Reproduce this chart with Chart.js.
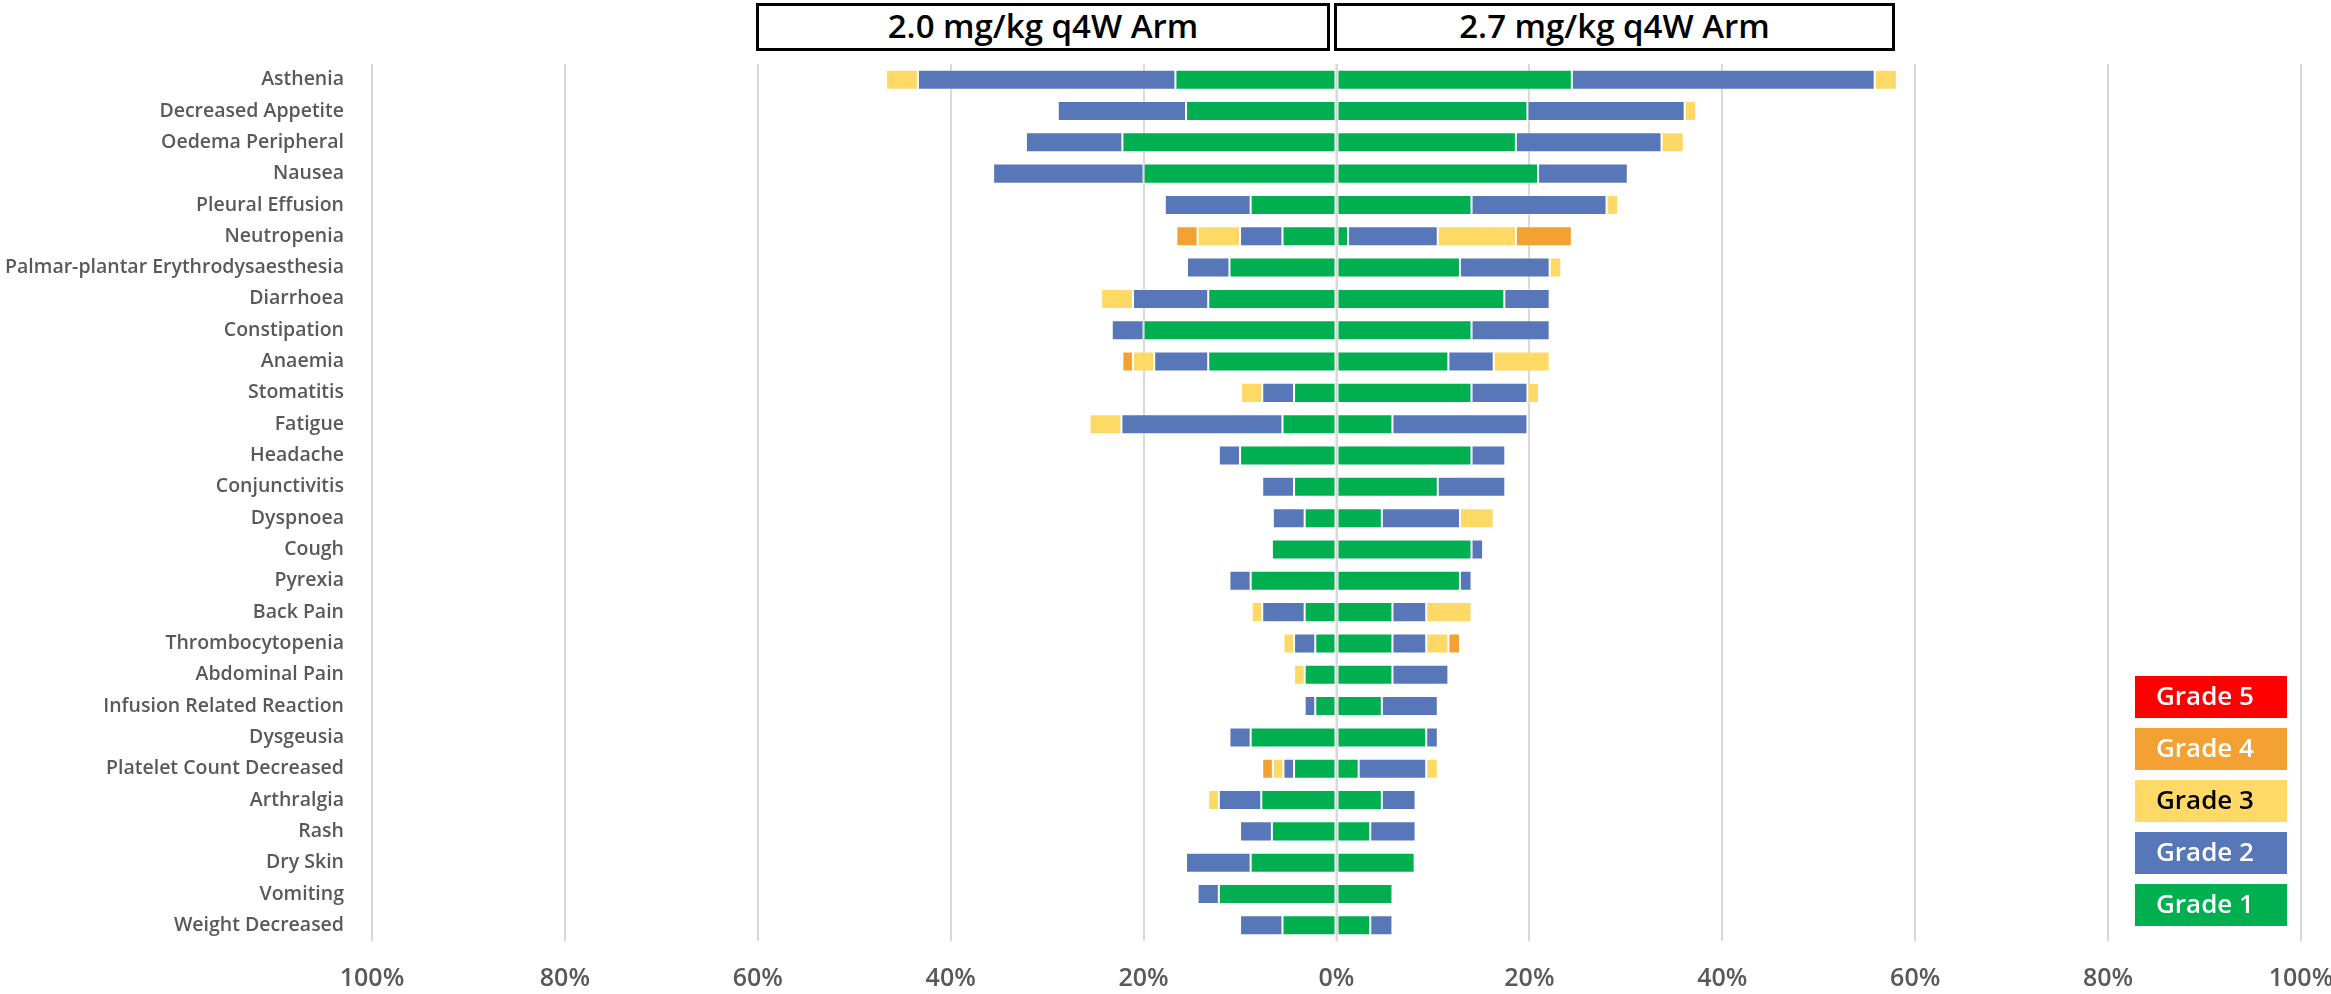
<!DOCTYPE html>
<html>
<head>
<meta charset="utf-8">
<script src="https://cdn.jsdelivr.net/npm/chart.js@4"></script>
<style>
  body { margin: 0; background: #fff; }
  #wrap { position: relative; width: 2331px; height: 994px; }
  .arm {
    position: absolute; top: 3px; height: 48px; box-sizing: border-box;
    border: 3px solid #000; background: #fff; color: #000;
    font: 600 33px "Open Sans", sans-serif; text-align: center; line-height: 40px;
  }
</style>
</head>
<body>
<div id="wrap">
  <canvas id="myChart" width="2331" height="994"></canvas>
  <div class="arm" style="left:756px;width:574px">2.0 mg/kg q4W Arm</div>
  <div class="arm" style="left:1334px;width:561px">2.7 mg/kg q4W Arm</div>
</div>
<script>
// 부작용 항목 (위에서부터)
const categories = [
  "Asthenia", "Decreased Appetite", "Oedema Peripheral", "Nausea", "Pleural Effusion",
  "Neutropenia", "Palmar-plantar Erythrodysaesthesia", "Diarrhoea", "Constipation", "Anaemia",
  "Stomatitis", "Fatigue", "Headache", "Conjunctivitis", "Dyspnoea", "Cough", "Pyrexia",
  "Back Pain", "Thrombocytopenia", "Abdominal Pain", "Infusion Related Reaction", "Dysgeusia",
  "Platelet Count Decreased", "Arthralgia", "Rash", "Dry Skin", "Vomiting", "Weight Decreased"
];

const grades = ["Grade 1", "Grade 2", "Grade 3", "Grade 4", "Grade 5"];
const gradeColors = ["#00b050", "#5877b9", "#ffd966", "#f4a133", "#ff0000"];

// 2.0 mg/kg q4W Arm (%), 왼쪽
const lowG1 = [16.7, 15.6, 22.2, 20.0, 8.9, 5.6, 11.1, 13.3, 20.0, 13.3, 4.4, 5.6, 10.0, 4.4, 3.3, 6.7, 8.9, 3.3, 2.2, 3.3, 2.2, 8.9, 4.4, 7.8, 6.7, 8.9, 12.2, 5.6];
const lowG2 = [26.7, 13.3, 10.0, 15.6, 8.9, 4.4, 4.4, 7.8, 3.3, 5.6, 3.3, 16.7, 2.2, 3.3, 3.3, 0, 2.2, 4.4, 2.2, 0, 1.1, 2.2, 1.1, 4.4, 3.3, 6.7, 2.2, 4.4];
const lowG3 = [3.3, 0, 0, 0, 0, 4.4, 0, 3.3, 0, 2.2, 2.2, 3.3, 0, 0, 0, 0, 0, 1.1, 1.1, 1.1, 0, 0, 1.1, 1.1, 0, 0, 0, 0];
const lowG4 = [0, 0, 0, 0, 0, 2.2, 0, 0, 0, 1.1, 0, 0, 0, 0, 0, 0, 0, 0, 0, 0, 0, 0, 1.1, 0, 0, 0, 0, 0];
const lowG5 = [0, 0, 0, 0, 0, 0, 0, 0, 0, 0, 0, 0, 0, 0, 0, 0, 0, 0, 0, 0, 0, 0, 0, 0, 0, 0, 0, 0];

// 2.7 mg/kg q4W Arm (%), 오른쪽
const highG1 = [24.4, 19.8, 18.6, 20.9, 14.0, 1.2, 12.8, 17.4, 14.0, 11.6, 14.0, 5.8, 14.0, 10.5, 4.7, 14.0, 12.8, 5.8, 5.8, 5.8, 4.7, 9.3, 2.3, 4.7, 3.5, 8.1, 5.8, 3.5];
const highG2 = [31.4, 16.3, 15.1, 9.3, 14.0, 9.3, 9.3, 4.7, 8.1, 4.7, 5.8, 14.0, 3.5, 7.0, 8.1, 1.2, 1.2, 3.5, 3.5, 5.8, 5.8, 1.2, 7.0, 3.5, 4.7, 0, 0, 2.3];
const highG3 = [2.3, 1.2, 2.3, 0, 1.2, 8.1, 1.2, 0, 0, 5.8, 1.2, 0, 0, 0, 3.5, 0, 0, 4.7, 2.3, 0, 0, 0, 1.2, 0, 0, 0, 0, 0];
const highG4 = [0, 0, 0, 0, 0, 5.8, 0, 0, 0, 0, 0, 0, 0, 0, 0, 0, 0, 0, 1.2, 0, 0, 0, 0, 0, 0, 0, 0, 0];
const highG5 = [0, 0, 0, 0, 0, 0, 0, 0, 0, 0, 0, 0, 0, 0, 0, 0, 0, 0, 0, 0, 0, 0, 0, 0, 0, 0, 0, 0];

const xTickLabels = ["100%", "80%", "60%", "40%", "20%", "0%", "20%", "40%", "60%", "80%", "100%"];

const lowArm = [lowG1, lowG2, lowG3, lowG4, lowG5];
const highArm = [highG1, highG2, highG3, highG4, highG5];

function makeSet(vals, i, sign) {
  return {
    label: grades[i],
    data: vals.map(v => (v === 0 ? null : sign * v)), // 왼쪽은 음수로
    backgroundColor: gradeColors[i],
    borderColor: "rgba(255,255,255,0.35)",
    borderWidth: 1,
    borderSkipped: false,
    stack: "all",
    categoryPercentage: 1,
    barPercentage: 0.64,
  };
}

const datasets = [];
lowArm.forEach((vals, i) => datasets.push(makeSet(vals, i, -1)));
highArm.forEach((vals, i) => datasets.push(makeSet(vals, i, 1)));

// 0% 선은 막대 위에
const zeroLine = {
  id: "zeroLine",
  afterDatasetsDraw(chart) {
    const { ctx, chartArea } = chart;
    const x = chart.scales.x.getPixelForValue(0);
    ctx.save();
    ctx.strokeStyle = "#d9d9d9";
    ctx.lineWidth = 2;
    ctx.beginPath();
    ctx.moveTo(x, chartArea.top);
    ctx.lineTo(x, chartArea.bottom);
    ctx.stroke();
    ctx.restore();
  },
};

// x축 눈금 글자 (양쪽 모두 양수 %)
const xLabels = {
  id: "xLabels",
  afterDraw(chart) {
    const { ctx, chartArea } = chart;
    const sc = chart.scales.x;
    ctx.save();
    ctx.font = '600 25px "Open Sans"';
    ctx.fillStyle = "#595959";
    ctx.textAlign = "center";
    ctx.textBaseline = "middle";
    sc.ticks.forEach((t, i) => {
      ctx.fillText(xTickLabels[i], sc.getPixelForValue(t.value), chartArea.bottom + 38);
    });
    ctx.restore();
  },
};

// 범례: 색 상자 안에 글자
const gradeLegend = {
  id: "gradeLegend",
  afterDraw(chart) {
    const ctx = chart.ctx;
    ctx.save();
    ctx.font = '600 26px "Open Sans"';
    ctx.textBaseline = "middle";
    for (let k = 0; k < grades.length; k++) {
      const i = grades.length - 1 - k;
      const top = 676 + k * 52;
      ctx.fillStyle = gradeColors[i];
      ctx.fillRect(2135, top, 152, 42);
      ctx.fillStyle = i === 2 ? "#000" : "#fff";
      ctx.fillText(grades[i], 2156, top + 22);
    }
    ctx.restore();
  },
};

const ctx = document.getElementById("myChart").getContext("2d");
const myChart = new Chart(ctx, {
  type: "bar",
  data: { labels: categories, datasets: datasets },
  options: {
    indexAxis: "y",
    responsive: false,
    animation: false,
    devicePixelRatio: 1,
    layout: { padding: { top: 64, right: 30, bottom: 0, left: 0 } },
    plugins: {
      legend: { display: false },
      tooltip: { enabled: false },
    },
    scales: {
      x: {
        stacked: true,
        min: -100,
        max: 100,
        afterFit: (s) => { s.height = 53; },
        ticks: { stepSize: 20, display: false },
        grid: { color: "#d9d9d9", lineWidth: 2, drawTicks: false },
        border: { display: false },
      },
      y: {
        stacked: true,
        afterFit: (s) => { s.width = 372; },
        ticks: {
          padding: 20,
          color: "#595959",
          font: { family: "Open Sans", size: 19.5, weight: "600" },
        },
        grid: { display: false },
        border: { display: false },
      },
    },
  },
  plugins: [zeroLine, xLabels, gradeLegend],
});
</script>
</body>
</html>
